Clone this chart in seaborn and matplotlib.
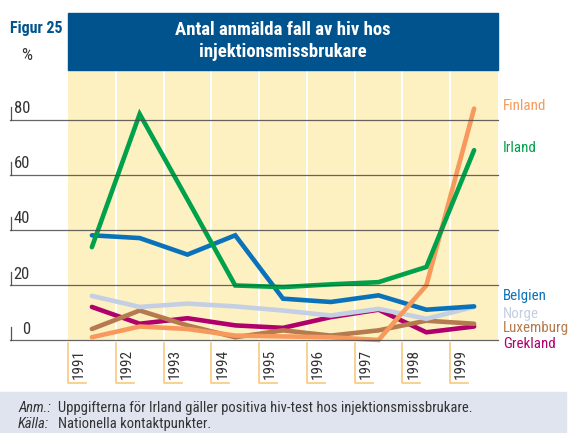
import pandas as pd
import numpy as np
import matplotlib
matplotlib.use('Agg')
import matplotlib.pyplot as plt
import seaborn as sns
from matplotlib import font_manager
from matplotlib.patches import Rectangle

## Data
years = [1991, 1992, 1993, 1994, 1995, 1996, 1997, 1998, 1999]
finland = [1, 4.9, 4, 1.6, 1.3, 1, 0, 19.8, 84]
irland = [33.7, 82, 51, 19.8, 19.2, 20.2, 21, 26.5, 68.9]
belgien = [38, 37, 31, 38, 15, 13.8, 16.2, 11, 12.2]
norge = [16, 12, 13.2, 12.2, 10.7, 8.9, 11.3, 7.7, 12]
luxemburg = [4, 10.7, 5.3, 1, 3.5, 1.6, 3.5, 7, 5.9]
grekland = [12, 5.9, 7.9, 5.3, 4.4, 8.3, 11, 2.8, 4.9]
y_ticks = [0, 20, 40, 60, 80]

series = {
    'Grekland': grekland,
    'Luxemburg': luxemburg,
    'Norge': norge,
    'Belgien': belgien,
    'Finland': finland,
    'Irland': irland,
}
colors = {
    'Finland': '#f7995c',
    'Irland': '#00a14b',
    'Belgien': '#0a72ba',
    'Norge': '#c4cfe3',
    'Luxemburg': '#b57a4e',
    'Grekland': '#b0006c',
}
# label positions on the right (y in data units)
label_y = {'Finland': 85, 'Irland': 69.6, 'Belgien': 15.8, 'Norge': 9.6,
           'Luxemburg': 4.2, 'Grekland': -1.3}

df = pd.DataFrame([
    {'year': y, 'land': land, 'value': v}
    for land, vals in series.items() for y, v in zip(years, vals)
])

## look for a condensed font, otherwise use Liberation Sans a bit smaller
fonts = font_manager.fontManager.ttflist
names = {f.name for f in fonts}
stretch = 'normal'
if 'Liberation Sans Narrow' in names:
    fam, k = 'Liberation Sans Narrow', 1.0
elif 'Roboto Condensed' in names:
    fam, k = 'Roboto Condensed', 1.0
elif any(f.name == 'DejaVu Sans' and str(f.stretch) in ('condensed', 'semi-condensed', '75', '87')
         for f in fonts):
    fam, k, stretch = 'DejaVu Sans', 0.92, 'condensed'
else:
    fam, k = 'Liberation Sans', 0.85
plt.rcParams['font.family'] = [fam, 'DejaVu Sans']
plt.rcParams['font.stretch'] = stretch

fig = plt.figure(figsize=(5.69, 4.33), dpi=100)
ax = fig.add_axes([68/569, 1 - 340/433, 430/569, 270/433])
ax.set_facecolor('#fdf0c1')
ax.set_xlim(years[0] - 0.5, years[-1] + 0.5)
ax.set_ylim(0, 98)
for s in ax.spines.values():
    s.set_visible(False)
ax.set_xticks([])
ax.set_yticks([])

## title band
fig.patches.append(Rectangle((68/569, 1 - 70/433), 430/569, 57/433,
                             transform=fig.transFigure, color='#00538d', zorder=0))
fig.text(283/569, 1 - 41/433, 'Antal anmälda fall av hiv hos\ninjektionsmissbrukare',
         ha='center', va='center', color='white', fontsize=13.5*k, fontweight='bold',
         linespacing=1.3)
fig.text(10/569, 1 - 28/433, 'Figur 25', ha='left', va='center', color='#00538d',
         fontsize=11.5*k, fontweight='bold')
fig.text(27/569, 1 - 55/433, '%', ha='center', va='center', color='#333333', fontsize=12.5*k)

## column separators
for y in years[:-1]:
    ax.axvline(y + 0.5, color='white', lw=1.5, zorder=1)

## gridlines + y labels
ytr = ax.get_yaxis_transform()
x0 = (10 - 68) / 430
for t in y_ticks:
    ax.plot([x0, 1], [t, t], transform=ytr, color='#4a4a4a', lw=0.9, alpha=0.85,
            clip_on=False, zorder=5)
    ax.plot([x0 + 1/430, x0 + 1/430], [t, t + 13/2.75], transform=ytr, color='#555555',
            lw=0.9, clip_on=False)
    ax.text((30 - 68) / 430, t + 1.2, str(t), transform=ytr, ha='right', va='bottom',
            fontsize=12*k, color='#333333')

## lines
sns.lineplot(data=df, x='year', y='value', hue='land', palette=colors,
             hue_order=list(series.keys()), linewidth=3.3, legend=False, ax=ax,
             zorder=3, clip_on=False)
for line in ax.get_lines()[-len(series):]:
    line.set_solid_capstyle('round')
    line.set_solid_joinstyle('miter')
ax.set_xlabel('')
ax.set_ylabel('')

## right labels
for land, yv in label_y.items():
    ax.text(1 + 5/430, yv, land, transform=ytr, ha='left', va='center',
            fontsize=10.8*k, color=colors[land])

## year labels with brackets
xtr = ax.get_xaxis_transform()
for y in years:
    ax.plot([y - 0.5, y - 0.5, y - 0.5 + 18/47.8], [-3/270, -43/270, -43/270],
            transform=xtr, color='#f7c97e', lw=1.2, clip_on=False)
    ax.text(y - 0.5 + 11/47.8, -24/270, str(y), transform=xtr, rotation=90,
            ha='center', va='center', fontsize=11*k, color='#333333')

## note box
fig.patches.append(Rectangle((0, 0), 566/569, 41/433, transform=fig.transFigure,
                             color='#dfe4ef', zorder=0))
fs = 10.5*k
fig.text(18/569, 1 - 408/433, 'Anm.:', style='italic', fontsize=fs, va='center', color='#333333')
fig.text(58/569, 1 - 408/433, 'Uppgifterna för Irland gäller positiva hiv-test hos injektionsmissbrukare.',
         fontsize=fs, va='center', color='#333333')
fig.text(18/569, 1 - 424/433, 'Källa:', style='italic', fontsize=fs, va='center', color='#333333')
fig.text(58/569, 1 - 424/433, 'Nationella kontaktpunkter.', fontsize=fs, va='center', color='#333333')

fig.savefig('out.png', dpi=100)
